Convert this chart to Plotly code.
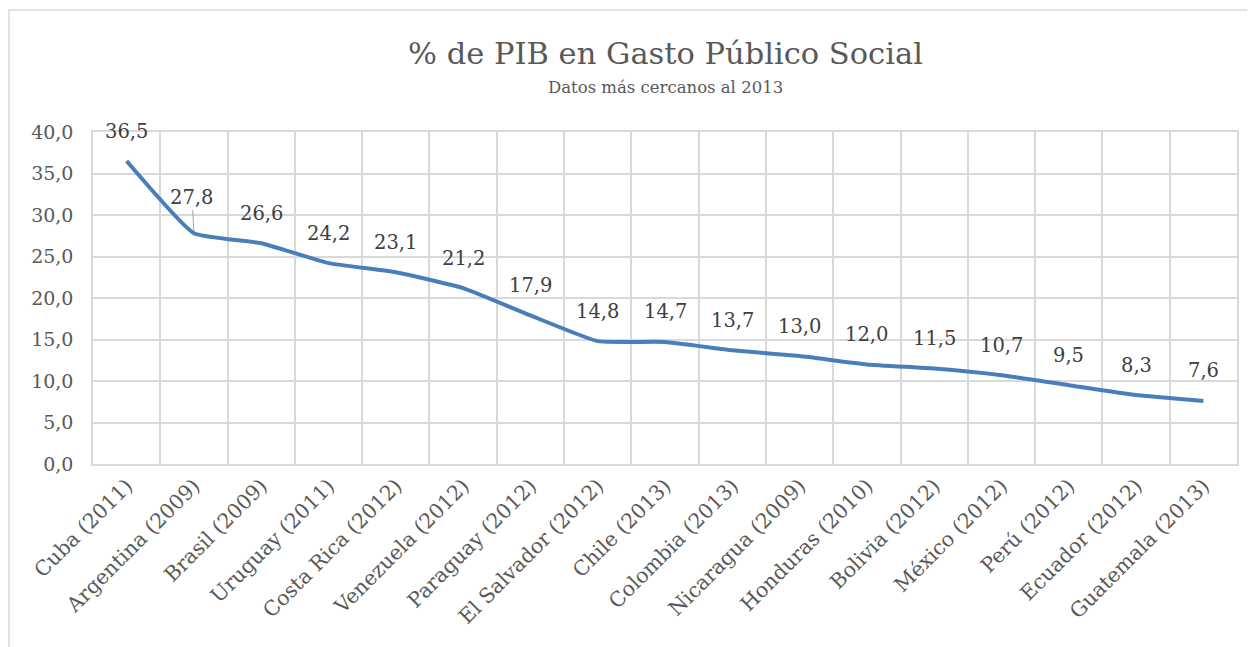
import plotly.graph_objects as go

categories = ["Cuba (2011)", "Argentina (2009)", "Brasil (2009)", "Uruguay (2011)",
              "Costa Rica (2012)", "Venezuela (2012)", "Paraguay (2012)",
              "El Salvador (2012)", "Chile (2013)", "Colombia (2013)",
              "Nicaragua (2009)", "Honduras (2010)", "Bolivia (2012)",
              "México (2012)", "Perú (2012)", "Ecuador (2012)", "Guatemala (2013)"]
values = [36.5, 27.8, 26.6, 24.2, 23.1, 21.2, 17.9, 14.8, 14.7, 13.7, 13.0,
          12.0, 11.5, 10.7, 9.5, 8.3, 7.6]
y_ticks = [0, 5, 10, 15, 20, 25, 30, 35, 40]

FONT = "DejaVu Serif"
GRID = "#d9d9d9"

fig = go.Figure()
fig.add_trace(go.Scatter(
    x=categories, y=values, mode="lines",
    line=dict(color="#4a7ebb", width=4, shape="spline", smoothing=0.4),
    hoverinfo="x+y", showlegend=False,
))

annotations = []
for c, v in zip(categories, values):
    label = f"{v:.1f}".replace(".", ",")
    if c.startswith("Argentina"):
        annotations.append(dict(x=c, y=v, text=label, showarrow=True, arrowhead=0,
                                arrowwidth=1, arrowcolor="#a6a6a6", ax=-2, ay=-36,
                                standoff=2, font=dict(family=FONT, size=19.5, color="#404040")))
    else:
        annotations.append(dict(x=c, y=v, text=label, showarrow=False, yshift=30,
                                font=dict(family=FONT, size=19.5, color="#404040")))

annotations.append(dict(xref="paper", yref="paper", x=0.5, y=1.235, yanchor="middle",
                        text="% de PIB en Gasto Público Social", showarrow=False,
                        font=dict(family=FONT, size=30.5, color="#595959")))
annotations.append(dict(xref="paper", yref="paper", x=0.5, y=1.133, yanchor="middle",
                        text="Datos más cercanos al 2013", showarrow=False,
                        font=dict(family=FONT, size=16.5, color="#595959")))

fig.update_layout(
    width=1255, height=647,
    margin=dict(l=85, r=26, t=124, b=191),
    paper_bgcolor="white", plot_bgcolor="white",
    separators=",.",
    annotations=annotations,
    shapes=[dict(type="rect", xref="paper", yref="paper",
                 x0=-0.0734, x1=1.2, y0=-1.0, y1=1.3675,
                 line=dict(color=GRID, width=1.5), fillcolor="rgba(0,0,0,0)", layer="below")],
    xaxis=dict(type="category", tickson="boundaries", showgrid=True, gridcolor=GRID,
               gridwidth=1.5, showline=True, linecolor=GRID, linewidth=1.5, mirror=True,
               ticks="", tickangle=-45, range=[-0.5, len(categories) - 0.5],
               tickfont=dict(family=FONT, size=20.5, color="#595959")),
    yaxis=dict(range=[0, 40], tickvals=y_ticks, tickformat=".1f", showgrid=True,
               gridcolor=GRID, gridwidth=1.5, showline=True, linecolor=GRID,
               linewidth=1.5, mirror=True, zeroline=False, ticks="",
               ticklabelstandoff=14,
               tickfont=dict(family=FONT, size=19, color="#595959")),
)

fig.write_html("out.html")
